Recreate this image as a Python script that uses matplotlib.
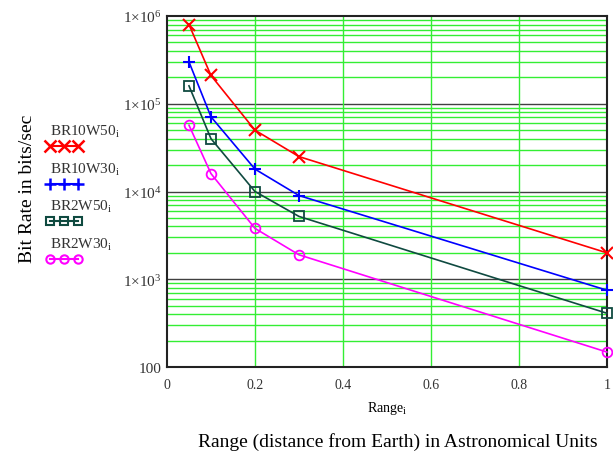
import numpy as np
import matplotlib
matplotlib.use('Agg')
import matplotlib.pyplot as plt
from matplotlib.lines import Line2D
from matplotlib.ticker import FixedLocator, NullFormatter

plt.rcParams['font.family'] = 'Liberation Serif'
plt.rcParams['mathtext.fontset'] = 'custom'
plt.rcParams['mathtext.rm'] = 'Liberation Serif'
plt.rcParams['mathtext.it'] = 'Liberation Serif:italic'

# Data
range_au = [0.05, 0.1, 0.2, 0.3, 1.0]
br10w50 = [8.0e5, 2.1e5, 5.0e4, 2.5e4, 2.0e3]
br10w30 = [3.0e5, 7.1e4, 1.8e4, 9.0e3, 750]
br2w50 = [1.6e5, 4.0e4, 1.0e4, 5.2e3, 410]
br2w30 = [5.7e4, 1.6e4, 3.8e3, 1.9e3, 148]

names = ['BR10W50', 'BR10W30', 'BR2W50', 'BR2W30']
colors = ['#ff0000', '#0000ff', '#0f4a40', '#ff00ff']
markers = ['x', '+', 's', 'o']

ytick_vals = [1e2, 1e3, 1e4, 1e5, 1e6]
ytick_labels = ['100', r'$\mathregular{1{\times}10^{3}}$', r'$\mathregular{1{\times}10^{4}}$',
                r'$\mathregular{1{\times}10^{5}}$', r'$\mathregular{1{\times}10^{6}}$']
xtick_vals = [0, 0.2, 0.4, 0.6, 0.8, 1.0]
xtick_labels = ['0', '0.2', '0.4', '0.6', '0.8', '1']

fig = plt.figure(figsize=(6.13, 4.56), dpi=100)
ax = fig.add_axes([0.2724, 0.193, 0.7176, 0.7697])

ax.set_yscale('log')
ax.set_xlim(0, 1)
ax.set_ylim(100, 1e6)

# grid
minor = [m * 10 ** e for e in range(2, 6) for m in range(2, 10)]
ax.yaxis.set_minor_locator(FixedLocator(minor))
ax.yaxis.set_minor_formatter(NullFormatter())
for v in minor:
    ax.axhline(v, color='#33ee33', lw=1.0, zorder=1)
for v in [1e3, 1e4, 1e5]:
    ax.axhline(v, color='#404040', lw=1.0, zorder=1)
for v in [0.2, 0.4, 0.6, 0.8]:
    ax.axvline(v, color='#33ee33', lw=1.0, zorder=1)

series = [br10w50, br10w30, br2w50, br2w30]
for ys, c, m in zip(series, colors, markers):
    if m in ('x', '+'):
        ax.plot(range_au, ys, color=c, lw=1.2, marker=m, ms=9, mew=1.5, zorder=3, clip_on=False)
    else:
        ax.plot(range_au, ys, color=c, lw=1.2, marker=m, ms=7, mew=1.3, mfc='none', zorder=3, clip_on=False)

ax.set_yticks(ytick_vals)
ax.set_yticklabels(ytick_labels, fontsize=11, color='#333333')
ax.set_xticks(xtick_vals)
ax.set_xticklabels(xtick_labels, fontsize=10, color='#333333')
ax.tick_params(axis='both', which='both', length=0)
ax.tick_params(axis='y', pad=4)
ax.tick_params(axis='x', pad=8)
for s in ax.spines.values():
    s.set_linewidth(1.5)
    s.set_color('#222222')

ax.set_xlabel(r'Range$_\mathregular{i}$', fontsize=10, labelpad=6)

fig.text(0.649, 1 - 442 / 456, 'Range (distance from Earth) in Astronomical Units', fontsize=14,
         ha='center', va='center')
fig.text(0.045, 0.585, 'Bit Rate in bits/sec', fontsize=14, rotation=90, ha='center', va='center')

# legend on the left
for i, (n, c, m) in enumerate(zip(names, colors, markers)):
    y = 1 - (132 + i * 37.5) / 456
    fig.text(0.081, y, n + r'$_\mathregular{i}$', fontsize=11, color='#333333', va='center')
    ly = y - 0.033
    xs = [0.081, 0.1045, 0.128]
    if m in ('x', '+'):
        ln = Line2D(xs, [ly] * 3, color=c, lw=1.5, marker=m, ms=9, mew=1.8, transform=fig.transFigure)
    else:
        ln = Line2D(xs, [ly] * 3, color=c, lw=1.5, marker=m, ms=6, mew=1.5, mfc='none', transform=fig.transFigure)
    fig.add_artist(ln)

fig.savefig('out.png', dpi=100)
